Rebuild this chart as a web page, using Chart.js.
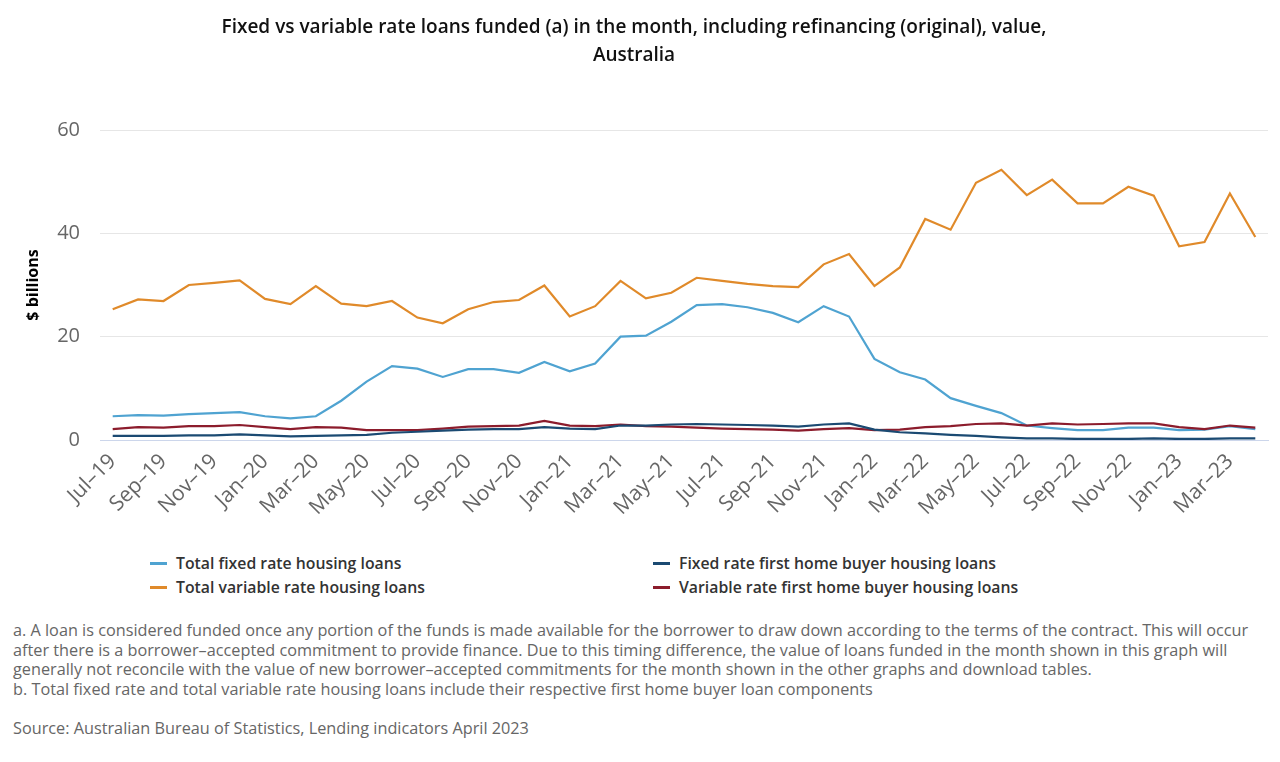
<!DOCTYPE html>
<html>
<head>
<meta charset="utf-8">
<script src="https://cdn.jsdelivr.net/npm/chart.js@4.4.0/dist/chart.umd.min.js"></script>
<style>
  body { margin: 0; background: #fff; font-family: "Open Sans", sans-serif; }
  #wrap { position: absolute; left: 0; top: 0; width: 1280px; height: 540px; }
  #legend { position: absolute; left: 0; top: 551px; width: 1280px; font-size: 15.8px; font-weight: 600; color: #333; }
  .item { position: absolute; height: 24px; line-height: 24px; white-space: nowrap; }
  .sw { display: inline-block; width: 17px; height: 3px; vertical-align: middle; margin-right: 9px; position: relative; top: -1px; }
  #notes { position: absolute; left: 13px; top: 621px; font-size: 16.25px; color: #666; line-height: 19.5px; white-space: nowrap; }
</style>
</head>
<body>
<div id="wrap"><canvas id="myChart"></canvas></div>
<div id="legend"></div>
<div id="notes">
a. A loan is considered funded once any portion of the funds is made available for the borrower to draw down according to the terms of the contract. This will occur<br>
after there is a borrower–accepted commitment to provide finance. Due to this timing difference, the value of loans funded in the month shown in this graph will<br>
generally not reconcile with the value of new borrower–accepted commitments for the month shown in the other graphs and download tables.<br>
b. Total fixed rate and total variable rate housing loans include their respective first home buyer loan components<br>
<br>
Source: Australian Bureau of Statistics, Lending indicators April 2023
</div>
<script>
// months Jul-19 .. Apr-23
var months = ["Jul–19","Aug–19","Sep–19","Oct–19","Nov–19","Dec–19","Jan–20","Feb–20","Mar–20","Apr–20","May–20","Jun–20",
  "Jul–20","Aug–20","Sep–20","Oct–20","Nov–20","Dec–20","Jan–21","Feb–21","Mar–21","Apr–21","May–21","Jun–21",
  "Jul–21","Aug–21","Sep–21","Oct–21","Nov–21","Dec–21","Jan–22","Feb–22","Mar–22","Apr–22","May–22","Jun–22",
  "Jul–22","Aug–22","Sep–22","Oct–22","Nov–22","Dec–22","Jan–23","Feb–23","Mar–23","Apr–23"];

var totalFixed = [4.6,4.8,4.7,5.0,5.2,5.4,4.6,4.2,4.6,7.6,11.3,14.3,13.8,12.2,13.7,13.7,13.0,15.1,13.3,14.8,20.0,20.2,22.9,26.1,
  26.3,25.7,24.6,22.8,25.9,23.9,15.7,13.1,11.7,8.1,6.6,5.2,2.8,2.3,1.9,1.9,2.4,2.4,1.9,2.0,2.7,2.1];
var totalVariable = [25.3,27.2,26.9,30.0,30.4,30.9,27.3,26.3,29.8,26.4,25.9,26.9,23.7,22.6,25.3,26.7,27.1,29.9,23.9,25.9,30.8,27.4,28.5,31.4,
  30.8,30.2,29.8,29.6,34.0,36.0,29.8,33.4,42.8,40.7,49.8,52.3,47.4,50.4,45.8,45.8,49.0,47.3,37.5,38.3,47.7,39.3];
var fixedFHB = [0.8,0.8,0.8,0.9,0.9,1.1,0.9,0.7,0.8,0.9,1.0,1.4,1.6,1.8,2.0,2.1,2.1,2.5,2.2,2.1,2.8,2.8,3.0,3.1,
  3.0,2.9,2.8,2.6,3.0,3.2,2.0,1.5,1.3,1.0,0.8,0.5,0.3,0.3,0.2,0.2,0.2,0.3,0.2,0.2,0.3,0.3];
var variableFHB = [2.1,2.5,2.4,2.7,2.7,2.9,2.5,2.1,2.5,2.4,1.9,1.9,1.9,2.2,2.6,2.7,2.8,3.7,2.8,2.7,3.0,2.7,2.6,2.4,
  2.2,2.1,2.0,1.8,2.1,2.3,1.9,2.0,2.5,2.7,3.1,3.2,2.8,3.2,3.0,3.1,3.2,3.2,2.5,2.1,2.8,2.4];

var seriesNames = ["Total fixed rate housing loans","Total variable rate housing loans",
  "Fixed rate first home buyer housing loans","Variable rate first home buyer housing loans"];
var seriesColors = ["#4fa3d1","#e08a2a","#1b4a72","#8c1c2c"];
var yTicks = [0, 20, 40, 60];

function makeLine(i, values) {
  return {
    label: seriesNames[i],
    data: values,
    borderColor: seriesColors[i],
    backgroundColor: seriesColors[i],
    borderWidth: 2.2,
    pointRadius: 0,
    fill: false,
    tension: 0
  };
}

var ctx = document.getElementById("myChart");
var myChart = new Chart(ctx, {
  type: 'line',
  data: {
    labels: months,
    datasets: [
      makeLine(2, fixedFHB),
      makeLine(3, variableFHB),
      makeLine(0, totalFixed),
      makeLine(1, totalVariable)
    ]
  },
  options: {
    responsive: true,
    maintainAspectRatio: false,
    animation: false,
    layout: { padding: { left: 0, right: 12, top: 0, bottom: 0 } },
    plugins: {
      legend: { display: false },
      tooltip: { enabled: false },
      title: {
        display: true,
        text: ["Fixed vs variable rate loans funded (a) in the month, including refinancing (original), value,", "Australia"],
        color: "#111",
        font: { family: "Open Sans", size: 19, weight: "600", lineHeight: 1.5 },
        padding: { top: 13, bottom: 60 }
      }
    },
    scales: {
      x: {
        offset: true,
        grid: { display: false, drawTicks: false },
        border: { display: true, color: "#ccd6eb", width: 1 },
        ticks: {
          autoSkip: false,
          maxRotation: 45,
          minRotation: 45,
          color: "#666",
          padding: 9,
          font: { family: "Open Sans", size: 21 },
          callback: function (val, idx) {
            return idx % 2 === 0 ? this.getLabelForValue(val) : null;
          }
        },
        afterFit: function (scale) { scale.height = 100; }
      },
      y: {
        min: 0,
        max: 60,
        afterBuildTicks: function (scale) {
          scale.ticks = yTicks.map(function (v) { return { value: v }; });
        },
        grid: { color: "#e6e6e6", drawTicks: false },
        border: { display: false },
        ticks: {
          color: "#666",
          padding: 20,
          font: { family: "Open Sans", size: 20 }
        },
        title: {
          display: true,
          text: "$ billions",
          color: "#000",
          font: { family: "Open Sans", size: 16, weight: "bold" },
          padding: { top: 24, bottom: 0 }
        },
        afterFit: function (scale) { scale.width = 100; }
      }
    }
  }
});

// html legend, two columns like the original
var legendPos = [[150, 551], [150, 575], [653, 551], [653, 575]];
var legendBox = document.getElementById("legend");
for (var i = 0; i < seriesNames.length; i++) {
  var div = document.createElement("div");
  div.className = "item";
  div.style.left = legendPos[i][0] + "px";
  div.style.top = (legendPos[i][1] - 551) + "px";
  div.innerHTML = '<span class="sw" style="background:' + seriesColors[i] + '"></span>' + seriesNames[i];
  legendBox.appendChild(div);
}
</script>
</body>
</html>
